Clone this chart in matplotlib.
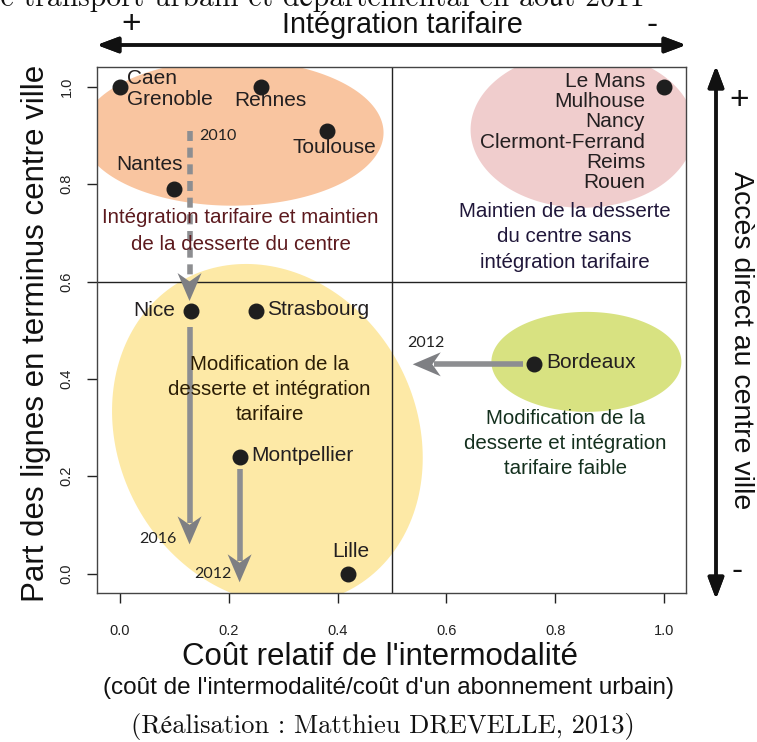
import numpy as np
import matplotlib.pyplot as plt
from matplotlib.patches import Polygon

# points
cost = [0.0, 0.26, 0.38, 0.10, 1.0, 0.13, 0.25, 0.76, 0.22, 0.42]
share = [1.0, 1.0, 0.91, 0.79, 1.0, 0.54, 0.54, 0.43, 0.24, 0.0]
names = ["Caen\nGrenoble", "Rennes", "Toulouse", "Nantes",
         "Le Mans\nMulhouse\nNancy\nClermont-Ferrand\nReims\nRouen",
         "Nice", "Strasbourg", "Bordeaux", "Montpellier", "Lille"]
ticks = [0.0, 0.2, 0.4, 0.6, 0.8, 1.0]

# label placement (offset in pixels, ha)
lab_pos = [(7, -2, "left"), (9, -14, "center"), (8, -17, "center"), (-25, 25, "center"),
           (-19, -45, "right"), (-16, 0, "right"), (11, 1, "left"), (13, 2, "left"),
           (12, 1, "left"), (2, 22, "center")]

sans = ["Liberation Sans", "DejaVu Sans"]
serif = ["cmr10", "STIXGeneral", "DejaVu Serif"]
plt.rcParams["font.family"] = sans
plt.rcParams["axes.unicode_minus"] = False

W, H = 757, 742
fig = plt.figure(figsize=(W / 100, H / 100), dpi=100)
L, R, T, B = 97, 686, 67, 593
ax = fig.add_axes([L / W, 1 - B / H, (R - L) / W, (B - T) / H])
ax.set_xlim(-0.042, 1.04)
ax.set_ylim(-0.04, 1.041)
sx = (R - L) / 1.082
sy = (B - T) / 1.081


def blob(cx, cy, a, b, ang, color):
    # ellipse sized in pixels, centred in data units
    t = np.linspace(0, 2 * np.pi, 200)
    th = np.radians(ang)
    dx = a * np.cos(t) * np.cos(th) - b * np.sin(t) * np.sin(th)
    dy = a * np.cos(t) * np.sin(th) + b * np.sin(t) * np.cos(th)
    ax.add_patch(Polygon(np.column_stack([cx + dx / sx, cy + dy / sy]),
                         closed=True, fc=color, ec="none", zorder=1))


def arrow(x0, y0, x1, y1, dashed=False):
    # grey shaft + stealth head, head sized in pixels
    ux, uy = (x1 - x0) * sx, (y1 - y0) * sy
    n = np.hypot(ux, uy)
    ux, uy = ux / n, uy / n
    hl, hw = 28, 12
    bx, by = x1 - 0.75 * hl * ux / sx, y1 - 0.75 * hl * uy / sy
    ls = (0, (1.8, 1.2)) if dashed else "-"
    ax.plot([x0, bx], [y0, by], color="#8d8e91", lw=4, ls=ls, zorder=3, solid_capstyle="butt")
    px, py = -uy, ux
    head = [(0, 0), (-hl * ux + hw * px, -hl * uy + hw * py), (-0.7 * hl * ux, -0.7 * hl * uy),
            (-hl * ux - hw * px, -hl * uy - hw * py)]
    ax.add_patch(Polygon([(x1 + hx / sx, y1 + hy / sy) for hx, hy in head], closed=True,
                         fc="#7e7f83", ec="none", zorder=3))


blob(0.207, 0.906, 151, 73, 0, "#f9c5a0")
blob(0.850, 0.912, 112, 78, 0, "#f0cdcd")
blob(0.271, 0.286, 176, 149, -62, "#fde9a6")
blob(0.857, 0.435, 95, 50, 0, "#d8e281")

ax.axvline(0.5, color="#222222", lw=1, zorder=2)
ax.axhline(0.6, color="#222222", lw=1, zorder=2)

# trajectories
arrow(0.128, 0.91, 0.128, 0.56, dashed=True)
arrow(0.128, 0.507, 0.128, 0.06)
arrow(0.22, 0.214, 0.22, -0.018)
arrow(0.74, 0.43, 0.538, 0.43)

years = [(0.18, 0.90, "2010"), (0.07, 0.07, "2016"), (0.17, 0.0, "2012"), (0.563, 0.474, "2012")]
for x, y, s in years:
    ax.text(x, y, s, fontsize=11.5, family=["Lato", "DejaVu Sans"], color="#222222",
            ha="center", va="center", zorder=4)

ax.scatter(cost, share, s=110, color="#1e1e1e", zorder=5)
for x, y, s, (ox, oy, ha) in zip(cost, share, names, lab_pos):
    ax.annotate(s, (x, y), xytext=(ox, oy), textcoords="offset pixels", ha=ha, va="center",
                fontsize=15, color="#231f20", linespacing=1.08, multialignment=ha, zorder=6)

quad = [(0.222, 0.704, "Intégration tarifaire et maintien\nde la desserte du centre", "#5c1a1e", 1.55),
        (0.817, 0.692, "Maintien de la desserte\ndu centre sans\nintégration tarifaire", "#20173a", 1.42),
        (0.275, 0.378, "Modification de la\ndesserte et intégration\ntarifaire", "#2b1d05", 1.42),
        (0.818, 0.267, "Modification de la\ndesserte et intégration\ntarifaire faible", "#14301e", 1.42)]
for x, y, s, c, lsp in quad:
    ax.text(x, y, s, ha="center", va="center", fontsize=14.8, color=c, linespacing=lsp, zorder=4)

ax.set_xticks(ticks)
ax.set_yticks(ticks)
ax.set_xticklabels([f"{v:.1f}" for v in ticks], fontsize=10.5)
ax.set_yticklabels([f"{v:.1f}" for v in ticks], fontsize=10.5, rotation=90, va="center")
ax.tick_params(axis="x", length=7, width=1, pad=15, colors="#222222")
ax.tick_params(axis="y", length=7, width=1, pad=10, colors="#222222")
for sp in ax.spines.values():
    sp.set_color("#444444")
    sp.set_linewidth(1)

# outer annotations
fig.text(380 / W, 1 - 657 / H, "Coût relatif de l'intermodalité", ha="center", va="center",
         fontsize=22.5, color="#111111")
fig.text(388 / W, 1 - 688 / H, "(coût de l'intermodalité/coût d'un abonnement urbain)",
         ha="center", va="center", fontsize=17.5, color="#111111")
fig.text(36 / W, 1 - 333 / H, "Part des lignes en terminus centre ville", rotation=90,
         ha="center", va="center", fontsize=22.5, color="#111111")
fig.text(741 / W, 1 - 340 / H, "Accès direct au centre ville", rotation=270,
         ha="center", va="center", fontsize=20.5, color="#111111")
fig.text(402 / W, 1 - 25 / H, "Intégration tarifaire", ha="center", va="center",
         fontsize=20.8, color="#111111")
fig.text(131 / W, 1 - 25 / H, "+", ha="center", va="center", fontsize=24, color="#111111")
fig.text(652 / W, 1 - 25 / H, "-", ha="center", va="center", fontsize=24, color="#111111")
fig.text(739 / W, 1 - 100 / H, "+", ha="center", va="center", fontsize=24, color="#111111")
fig.text(737 / W, 1 - 572 / H, "-", ha="center", va="center", fontsize=24, color="#111111")

arr = dict(arrowstyle="<|-|>,head_length=0.8,head_width=0.3", color="#111111", lw=2.5,
           mutation_scale=16, shrinkA=0, shrinkB=0)
fig.add_artist(plt.annotate("", xy=(97 / W, 1 - 45 / H), xytext=(686 / W, 1 - 45 / H),
                            xycoords="figure fraction", textcoords="figure fraction", arrowprops=arr))
fig.add_artist(plt.annotate("", xy=(716 / W, 1 - 66 / H), xytext=(716 / W, 1 - 599 / H),
                            xycoords="figure fraction", textcoords="figure fraction", arrowprops=arr))

fig.text(645 / W, 1 - 6 / H, "de transport urbain et départemental en août 2011", ha="right",
         va="baseline", fontsize=21.4, family=serif, color="#111111")
fig.text(383 / W, 1 - 727 / H, "(Réalisation : Matthieu DREVELLE, 2013)", ha="center",
         va="center", fontsize=19, family=serif, color="#111111")

fig.savefig("out.png", dpi=100)
